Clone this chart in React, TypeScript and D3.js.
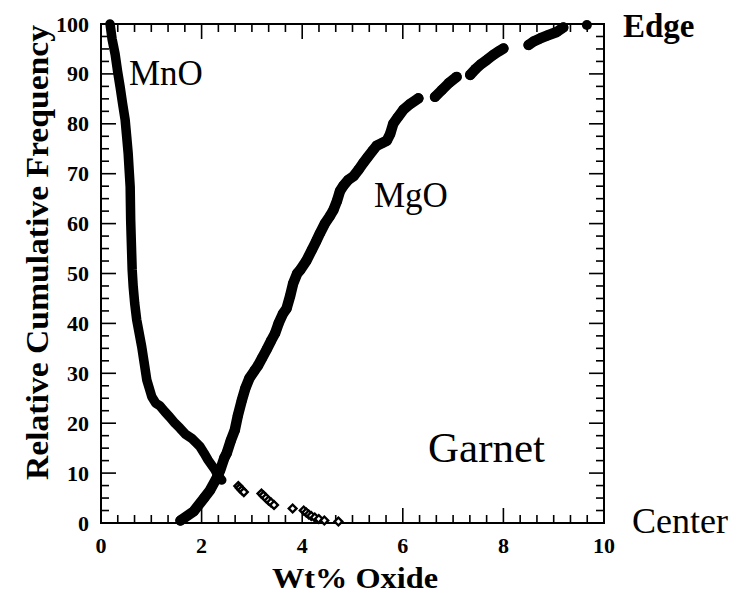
import * as d3 from "d3";
import { useEffect, useRef } from "react";

// MgO cumulative frequency, split into the runs where the dots touch
const mgoRuns: [number, number][][] = [
    [
        [1.58, 0.5], [1.84, 2.3], [2.05, 5], [2.17, 6.6], [2.3, 9], [2.37, 10.6],
        [2.45, 13], [2.5, 14], [2.58, 16.5], [2.66, 18.6], [2.72, 21.5], [2.8, 24.6],
        [2.87, 27], [2.95, 29], [3.05, 30.5], [3.12, 31.5], [3.2, 33], [3.29, 34.7],
        [3.38, 36.5], [3.46, 38], [3.53, 40], [3.62, 42], [3.69, 43], [3.76, 45.5],
        [3.82, 48], [3.9, 50], [3.96, 50.7], [4.08, 52.5], [4.19, 54.7], [4.28, 56.5],
        [4.35, 58], [4.45, 60], [4.55, 61.5], [4.62, 62.7], [4.69, 64.5], [4.75, 66.5],
        [4.82, 67.6], [4.92, 68.8], [5.02, 69.5], [5.12, 70.8], [5.21, 72.1], [5.3, 73.3],
        [5.4, 74.6], [5.48, 75.6], [5.6, 76.2], [5.68, 76.6], [5.75, 78], [5.81, 80],
        [5.9, 81.3], [6.01, 82.8], [6.15, 84], [6.31, 85.1],
    ],
    [[6.64, 85.4], [6.78, 86.8], [6.92, 88.2], [7.07, 89.4]],
    [[7.34, 89.8], [7.45, 91], [7.56, 92], [7.67, 92.8], [7.8, 93.8], [7.92, 94.6], [8.0, 95.1]],
    [[8.5, 95.8], [8.6, 96.5], [8.73, 97.1], [8.88, 97.7], [9.06, 98.4], [9.19, 99.3]],
    [[9.66, 99.8]],
];

// MnO: dense part then the sparse tail of open diamonds
const mnoDense: [number, number][] = [
    [0.18, 100], [0.22, 97], [0.28, 94], [0.33, 90.5], [0.38, 87.4], [0.43, 84],
    [0.48, 80.8], [0.51, 77.5], [0.54, 74.1], [0.56, 70.7], [0.58, 67.4], [0.585, 64],
    [0.59, 60.7], [0.6, 57.3], [0.61, 54], [0.62, 50.7], [0.64, 47.4], [0.67, 44],
    [0.71, 40.7], [0.76, 38], [0.81, 35.3], [0.86, 32], [0.91, 28.7], [0.96, 27],
    [1.01, 25.3], [1.09, 24], [1.17, 23.5], [1.27, 22.3], [1.37, 21.2], [1.47, 20],
    [1.57, 19], [1.68, 17.8], [1.8, 17], [1.9, 16], [1.97, 15.3], [2.05, 14],
    [2.13, 12.6], [2.2, 11.6], [2.27, 10.6], [2.33, 9.5], [2.4, 8.6],
];
const mnoTail: [number, number][] = [
    [2.73, 7.4], [2.76, 7], [2.8, 6.6], [2.84, 6.2], [3.19, 5.9], [3.23, 5.5],
    [3.28, 5], [3.33, 4.5], [3.38, 4.1], [3.44, 3.6], [3.81, 2.9], [4.03, 2.5],
    [4.08, 2.1], [4.13, 1.7], [4.18, 1.4], [4.25, 1.1], [4.33, 0.8], [4.44, 0.5],
    [4.72, 0.3],
];

const xMajor = [0, 2, 4, 6, 8, 10];
const yMajor = [0, 10, 20, 30, 40, 50, 60, 70, 80, 90, 100];
const xMinorStep = 1 / 3;
const yMinorStep = 2.5;

const serif = "'Liberation Serif', 'Times New Roman', serif";

export default function App() {
    const svgRef = useRef<SVGSVGElement | null>(null);

    useEffect(() => {
        if (!svgRef.current) return;
        const svg = d3.select(svgRef.current);
        svg.selectAll("*").remove();

        const left = 101, right = 604, top = 24, bottom = 523;

        const x = d3.scaleLinear().domain([0, 10]).range([left, right]);
        const y = d3.scaleLinear().domain([0, 100]).range([bottom, top]);

        const frame = svg.append("g").attr("stroke", "#000").attr("fill", "none");

        frame.append("rect")
            .attr("x", left).attr("y", top)
            .attr("width", right - left).attr("height", bottom - top)
            .attr("stroke-width", 2);

        const xTicks = d3.range(0, 10 + 1e-6, xMinorStep);
        const yTicks = d3.range(0, 100 + 1e-6, yMinorStep);
        const isMajorX = (v: number) => xMajor.some((m) => Math.abs(m - v) < 1e-6);
        const isMajorY = (v: number) => yMajor.some((m) => Math.abs(m - v) < 1e-6);

        xTicks.forEach((v) => {
            const len = isMajorX(v) ? 15 : 8;
            frame.append("line")
                .attr("x1", x(v)).attr("x2", x(v))
                .attr("y1", bottom).attr("y2", bottom - len)
                .attr("stroke-width", 1.6);
            frame.append("line")
                .attr("x1", x(v)).attr("x2", x(v))
                .attr("y1", top).attr("y2", top + len)
                .attr("stroke-width", 1.6);
        });

        yTicks.forEach((v) => {
            const len = isMajorY(v) ? 15 : 8;
            frame.append("line")
                .attr("x1", left).attr("x2", left + len)
                .attr("y1", y(v)).attr("y2", y(v))
                .attr("stroke-width", 1.6);
            frame.append("line")
                .attr("x1", right).attr("x2", right - len)
                .attr("y1", y(v)).attr("y2", y(v))
                .attr("stroke-width", 1.6);
        });

        svg.append("g")
            .selectAll("text")
            .data(xMajor)
            .join("text")
            .attr("x", (d) => x(d))
            .attr("y", 553)
            .attr("text-anchor", "middle")
            .attr("font-family", serif)
            .attr("font-weight", "bold")
            .attr("font-size", 22)
            .text((d) => d);

        svg.append("g")
            .selectAll("text")
            .data(yMajor)
            .join("text")
            .attr("x", 89)
            .attr("y", (d) => y(d) + 7.5)
            .attr("text-anchor", "end")
            .attr("font-family", serif)
            .attr("font-weight", "bold")
            .attr("font-size", 22)
            .text((d) => d);

        const line = d3.line<[number, number]>()
            .x((d) => x(d[0]))
            .y((d) => y(d[1]));

        // MgO: thick dotted trace
        const mgo = svg.append("g");
        mgoRuns.forEach((run) => {
            if (run.length > 1) {
                mgo.append("path")
                    .datum(run)
                    .attr("d", line)
                    .attr("fill", "none")
                    .attr("stroke", "#000")
                    .attr("stroke-width", 10.5)
                    .attr("stroke-linecap", "round")
                    .attr("stroke-linejoin", "round");
            }
            mgo.selectAll(null)
                .data(run)
                .join("circle")
                .attr("cx", (d) => x(d[0]))
                .attr("cy", (d) => y(d[1]))
                .attr("r", 5)
                .attr("fill", "#000");
        });

        // MnO
        svg.append("path")
            .datum(mnoDense)
            .attr("d", line)
            .attr("fill", "none")
            .attr("stroke", "#000")
            .attr("stroke-width", 9.5)
            .attr("stroke-linecap", "round")
            .attr("stroke-linejoin", "round");

        const diamond = d3.symbol().type(d3.symbolSquare).size(30);
        svg.append("g")
            .selectAll("path")
            .data(mnoTail)
            .join("path")
            .attr("d", diamond())
            .attr("transform", (d) => `translate(${x(d[0])},${y(d[1])}) rotate(45)`)
            .attr("fill", "#fff")
            .attr("stroke", "#000")
            .attr("stroke-width", 2.4);

        const label = (tx: number, ty: number, s: string, size: number, bold = false) =>
            svg.append("text")
                .attr("x", tx).attr("y", ty)
                .attr("font-family", serif)
                .attr("font-size", size)
                .attr("font-weight", bold ? "bold" : "normal")
                .text(s);

        label(129, 85, "MnO", 35);
        label(374, 207, "MgO", 35);
        label(428, 462, "Garnet", 43);
        label(623, 37, "Edge", 33, true);
        label(632, 533, "Center", 36);

        svg.append("text")
            .attr("x", 272).attr("y", 588)
            .attr("font-family", serif)
            .attr("font-weight", "bold")
            .attr("font-size", 29)
            .attr("textLength", 166)
            .attr("lengthAdjust", "spacingAndGlyphs")
            .text("Wt% Oxide");

        svg.append("text")
            .attr("transform", "translate(48,480) rotate(-90)")
            .attr("font-family", serif)
            .attr("font-weight", "bold")
            .attr("font-size", 32)
            .attr("textLength", 455)
            .attr("lengthAdjust", "spacingAndGlyphs")
            .text("Relative Cumulative Frequency");
    }, []);

    return (
        <svg
            ref={svgRef}
            width={734}
            height={596}
            style={{ position: "absolute", left: 0, top: 0, background: "#fff" }}
        />
    );
}
